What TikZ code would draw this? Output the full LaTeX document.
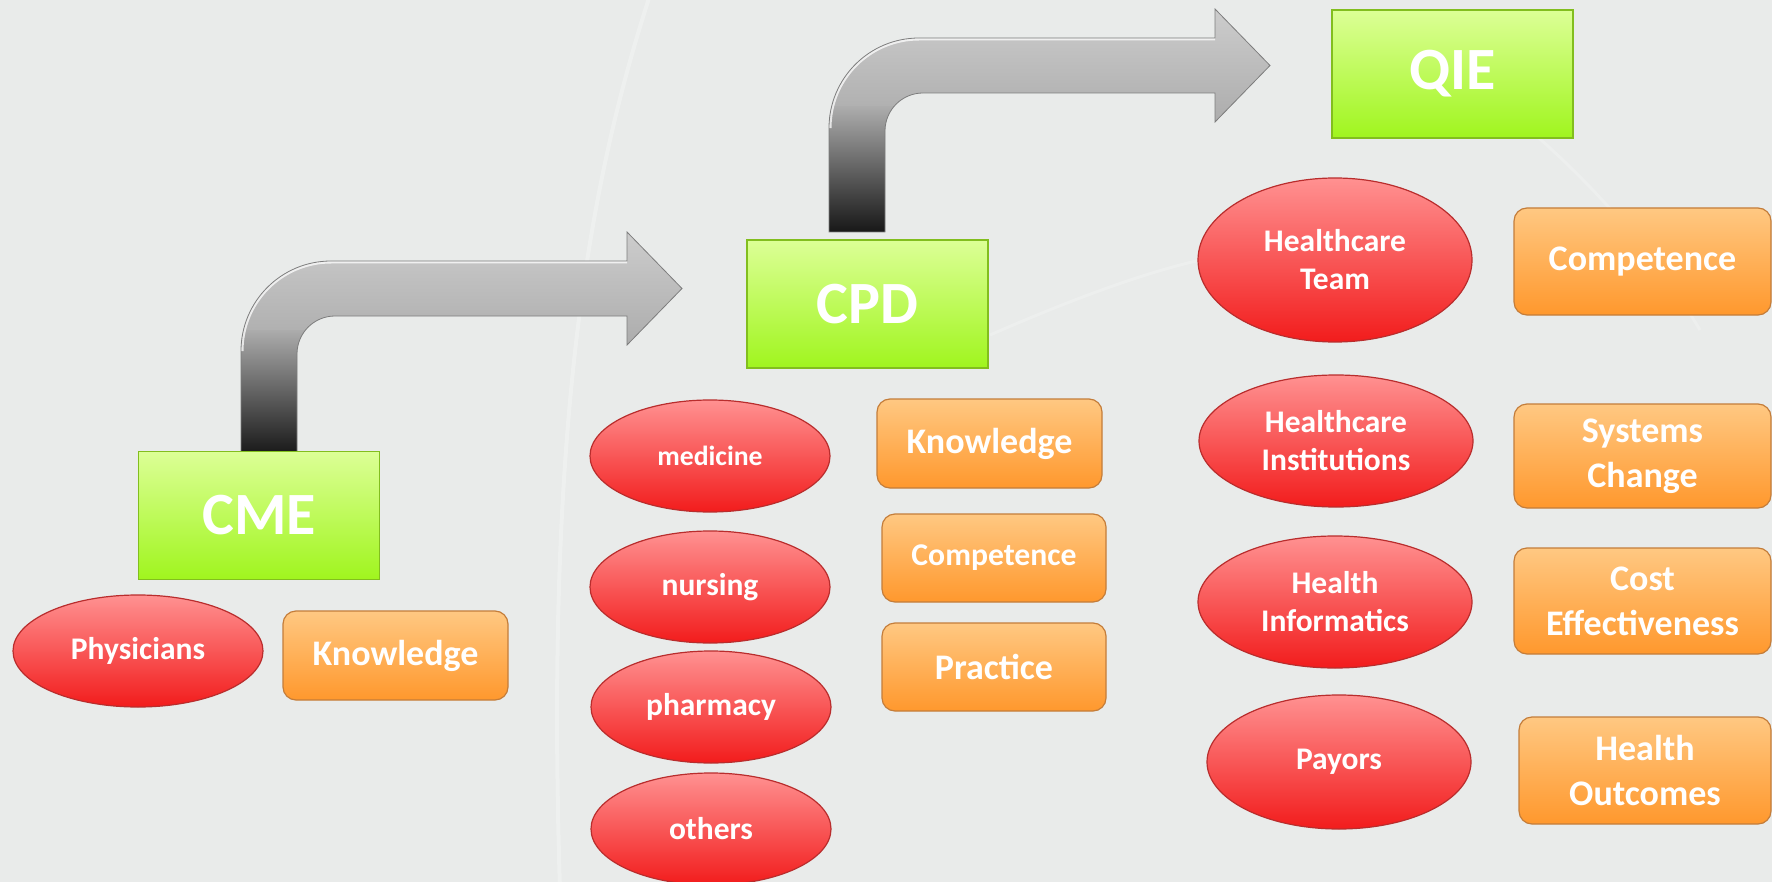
\documentclass[tikz,border=0pt]{standalone}
\usepackage{fontspec}
\setmainfont{Carlito}
\usetikzlibrary{shapes.geometric}
\definecolor{bg}{RGB}{233,235,234}
\definecolor{elltop}{RGB}{255,145,145}
\definecolor{ellbot}{RGB}{242,28,28}
\definecolor{ellline}{RGB}{185,45,45}
\definecolor{ortop}{RGB}{255,200,130}
\definecolor{orbot}{RGB}{255,152,45}
\definecolor{orline}{RGB}{196,125,58}
\definecolor{grtop}{RGB}{220,255,150}
\definecolor{grbot}{RGB}{160,245,30}
\definecolor{grline}{RGB}{130,190,30}
\definecolor{arrtop}{RGB}{205,205,205}
\definecolor{arrmid}{RGB}{172,172,172}
\definecolor{arrdark}{RGB}{22,22,22}
\definecolor{arrline}{RGB}{125,125,125}
\newcommand\BentArrowPath{(241,455) -- (241,351) .. controls (241,301.3) and (281.3,261) .. (331,261) -- (627,261) -- (627,232) -- (682,288.5) -- (627,345) -- (627,316) -- (335,316) .. controls (314,316) and (297,333) .. (297,354) -- (297,455) -- cycle}
\newcommand\BentArrow{%
  \begin{scope}
    \clip \BentArrowPath;
    \shade[top color=arrtop, bottom color=arrmid] (200,230) rectangle (700,346);
    \shade[top color=arrmid, bottom color=arrdark] (230,330) rectangle (310,456);
    \draw[white, opacity=0.75, line width=2.5pt] (241,351) .. controls (241,301.3) and (281.3,261) .. (331,261) -- (627,261);
  \end{scope}
  \draw[arrline, line width=0.4pt] \BentArrowPath;}
\tikzset{
  ell/.style={ellipse, draw=ellline, line width=0.6pt, top color=elltop, bottom color=ellbot,
    text=white, font=\bfseries\fontsize{15.75}{19}\selectfont, align=center, inner sep=0pt},
  obox/.style={rectangle, rounded corners=6.5pt, draw=orline, line width=0.6pt, top color=ortop,
    bottom color=orbot, text=white, font=\bfseries\fontsize{18}{22.5}\selectfont, align=center, inner sep=0pt},
  gbox/.style={rectangle, draw=grline, line width=0.6pt, top color=grtop, bottom color=grbot,
    text=white, font=\bfseries\fontsize{30}{36}\selectfont, inner sep=0pt,
    minimum width=120.5pt, minimum height=64pt}
}
\begin{document}
\begin{tikzpicture}[x=0.5pt,y=-0.5pt]
\useasboundingbox (0,0) rectangle (1772,882);
\fill[bg] (0,0) rectangle (1772,882);
% faint background swirls
\draw[white, opacity=0.25, line width=2pt] (650,-5) .. controls (590,180) and (545,420) .. (560,890);
\draw[white, opacity=0.2, line width=1.5pt] (990,335) .. controls (1070,300) and (1150,270) .. (1210,258);
\draw[white, opacity=0.2, line width=1.5pt] (1480,90) .. controls (1560,150) and (1640,230) .. (1700,330);
% bent arrows
\BentArrow
\begin{scope}[shift={(588,-223)}]
\BentArrow
\end{scope}
% CME column
\node[gbox] (cme) at (259,515.5) {CME};
\node[ell, minimum width=125pt, minimum height=56pt] (phys) at (138,651) {Physicians};
\node[obox, minimum width=112.5pt, minimum height=44.5pt] (know1) at (395.5,655.5) {Knowledge};
% CPD column
\node[gbox] (cpd) at (867.5,304) {CPD};
\node[ell, minimum width=120pt, minimum height=56pt, font=\bfseries\fontsize{13.85}{17}\selectfont] (med) at (710,456) {medicine};
\node[ell, minimum width=120pt, minimum height=56pt] (nurs) at (710,587) {nursing};
\node[ell, minimum width=120pt, minimum height=56pt] (pharm) at (711,707) {pharmacy};
\node[ell, minimum width=120pt, minimum height=56pt] (oth) at (711,829) {others};
\node[obox, minimum width=112.5pt, minimum height=44.5pt] (know2) at (989.5,443.5) {Knowledge};
\node[obox, minimum width=112pt, minimum height=44pt, font=\bfseries\fontsize{15.85}{19}\selectfont] (comp2) at (994,558) {Competence};
\node[obox, minimum width=112pt, minimum height=44pt] (prac) at (994,667) {Practice};
% QIE column
\node[gbox] (qie) at (1452.5,74) {QIE};
\node[ell, minimum width=137pt, minimum height=82pt] (team) at (1335,260) {Healthcare\\Team};
\node[ell, minimum width=137pt, minimum height=66pt] (inst) at (1336,441) {Healthcare\\Institutions};
\node[ell, minimum width=137pt, minimum height=66pt] (info) at (1335,602) {Health\\Informatics};
\node[ell, minimum width=132pt, minimum height=67pt] (pay) at (1339,762) {Payors};
\node[obox, minimum width=128.5pt, minimum height=53.5pt] (comp3) at (1642.5,261.5) {Competence};
\node[obox, minimum width=128.5pt, minimum height=52pt] (sys) at (1642.5,456) {Systems\\Change};
\node[obox, minimum width=128.5pt, minimum height=53pt] (cost) at (1642.5,601) {Cost\\Effectiveness};
\node[obox, minimum width=126pt, minimum height=53.5pt] (outc) at (1645,770.5) {Health\\Outcomes};
\end{tikzpicture}
\end{document}
